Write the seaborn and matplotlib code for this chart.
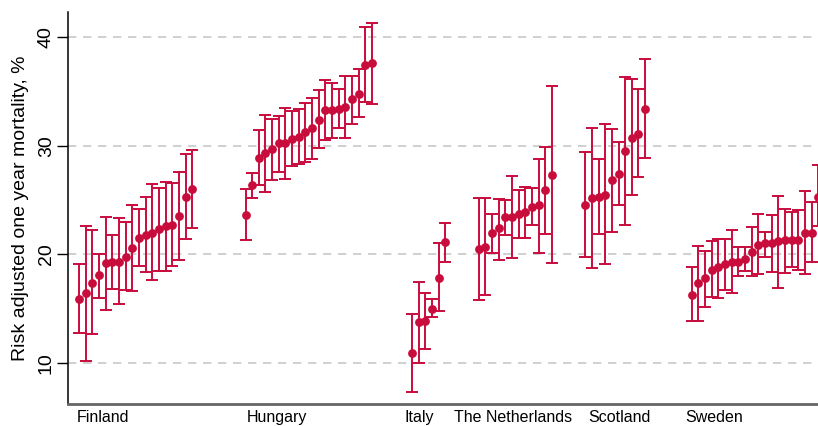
import numpy as np
import pandas as pd
import matplotlib
matplotlib.use("Agg")
import matplotlib.pyplot as plt
import seaborn as sns

countries = ["Finland", "Hungary", "Italy", "The Netherlands", "Scotland", "Sweden"]
group_start = [0, 25, 50, 60, 76, 92]
label_pos = [3.6, 29.7, 51.1, 65.1, 81.1, 95.4]

finland = [15.9, 16.4, 17.4, 18.1, 19.2, 19.3, 19.3, 19.8, 20.6, 21.5, 21.8, 22.0, 22.3, 22.6, 22.7, 23.5, 25.3, 26.0]
finland_hi = [19.1, 22.6, 22.2, 20.0, 23.4, 21.8, 23.3, 23.0, 24.5, 24.2, 25.3, 26.5, 26.1, 26.7, 26.6, 27.6, 29.2, 29.6]
finland_lo = [12.8, 10.2, 12.7, 16.0, 14.9, 16.8, 15.4, 16.7, 16.6, 18.9, 18.4, 17.6, 18.5, 18.5, 18.9, 19.5, 21.4, 22.4]

hungary = [23.6, 26.4, 28.9, 29.3, 29.7, 30.2, 30.2, 30.6, 30.8, 31.3, 31.6, 32.4, 33.3, 33.3, 33.4, 33.6, 34.3, 34.8, 37.4, 37.6]
hungary_hi = [26.0, 27.5, 31.4, 32.8, 32.5, 32.7, 33.5, 33.2, 33.4, 33.9, 34.4, 35.1, 36.0, 35.8, 35.2, 36.4, 36.4, 37.1, 40.9, 41.3]
hungary_lo = [21.3, 25.2, 26.4, 25.7, 26.8, 27.6, 26.9, 28.1, 28.3, 28.5, 28.8, 29.8, 30.5, 30.7, 31.6, 30.7, 32.0, 32.6, 34.0, 33.8]

italy = [10.9, 13.8, 13.9, 15.0, 17.8, 21.1]
italy_hi = [14.5, 17.5, 16.4, 15.9, 21.0, 22.9]
italy_lo = [7.3, 10.0, 11.3, 14.2, 14.8, 19.3]

netherlands = [20.5, 20.7, 22.0, 22.4, 23.4, 23.4, 23.7, 23.9, 24.4, 24.5, 25.9, 27.3]
netherlands_hi = [25.2, 25.2, 23.7, 25.1, 25.0, 27.2, 25.9, 26.2, 26.1, 28.8, 29.9, 35.5]
netherlands_lo = [15.8, 16.3, 20.1, 19.5, 21.8, 19.7, 21.5, 21.5, 22.7, 20.1, 21.9, 19.2]

scotland = [24.5, 25.2, 25.3, 25.5, 26.8, 27.4, 29.5, 30.7, 31.1, 33.4]
scotland_hi = [29.4, 31.6, 28.8, 32.0, 31.5, 30.3, 36.3, 36.1, 35.2, 38.0]
scotland_lo = [19.8, 18.7, 21.9, 19.1, 22.1, 24.5, 22.7, 25.5, 27.1, 28.9]

sweden = [16.3, 17.4, 17.8, 18.6, 18.8, 19.1, 19.3, 19.3, 19.6, 20.2, 20.9, 21.0, 21.0, 21.2, 21.3, 21.3, 21.3, 22.0, 22.0, 25.3]
sweden_hi = [18.8, 20.8, 20.3, 21.2, 21.4, 21.4, 22.2, 20.7, 20.7, 22.5, 23.7, 22.1, 23.6, 25.4, 24.2, 23.9, 24.1, 25.8, 24.8, 28.2]
sweden_lo = [13.9, 13.9, 15.2, 16.1, 16.0, 16.7, 16.4, 18.0, 18.5, 18.0, 18.2, 19.8, 18.4, 16.9, 18.3, 18.8, 18.6, 18.2, 19.3, 22.6]

yticks = [10, 20, 30, 40]
ylabel = "Risk adjusted one year mortality, %"

series = [
    (finland, finland_lo, finland_hi),
    (hungary, hungary_lo, hungary_hi),
    (italy, italy_lo, italy_hi),
    (netherlands, netherlands_lo, netherlands_hi),
    (scotland, scotland_lo, scotland_hi),
    (sweden, sweden_lo, sweden_hi),
]

rows = []
for c, start, (v, lo, hi) in zip(countries, group_start, series):
    for i, (a, l, h) in enumerate(zip(v, lo, hi)):
        rows.append({"country": c, "x": start + i, "value": a, "lo": l, "hi": h})
df = pd.DataFrame(rows)

sns.set_theme(style="white")
plt.rcParams["font.family"] = ["Liberation Sans", "DejaVu Sans"]
plt.rcParams["text.color"] = "black"
plt.rcParams["axes.labelcolor"] = "black"
plt.rcParams["xtick.color"] = "black"
plt.rcParams["ytick.color"] = "black"

color = "#c80c3c"

fig = plt.figure(figsize=(8.18, 4.26), dpi=100)
ax = fig.add_axes([68 / 818, 22 / 426, 1 - 68 / 818, 1 - 34 / 426])

ax.errorbar(df["x"], df["value"],
            yerr=[df["value"] - df["lo"], df["hi"] - df["value"]],
            fmt="none", ecolor=color, elinewidth=1.4, capsize=4.2, capthick=1.4, zorder=3)
sns.scatterplot(data=df, x="x", y="value", color=color, s=40, edgecolor=color,
                linewidth=0, ax=ax, zorder=4, legend=False)

ax.set_xlim(-1.65, 110.95)
ax.set_ylim(6.23, 42.3)

ax.set_yticks(yticks)
ax.set_yticklabels([str(t) for t in yticks], rotation=90, va="center", fontsize=14)
ax.set_xticks(label_pos)
ax.set_xticklabels(countries, fontsize=11.5)
ax.tick_params(axis="x", length=0, pad=4)
ax.tick_params(axis="y", length=8, width=1.0, color="black", pad=1.5, left=True)

for t in yticks:
    ax.axhline(t, color="#c8c8c8", lw=1.2, ls=(0, (5, 4)), zorder=1)

ax.set_xlabel("")
ax.set_ylabel(ylabel, fontsize=14, labelpad=6)

for s in ["top", "right"]:
    ax.spines[s].set_visible(False)
ax.spines["left"].set_color("black")
ax.spines["left"].set_linewidth(1.1)
ax.spines["bottom"].set_color("#666666")
ax.spines["bottom"].set_linewidth(2.0)

fig.savefig("out.png", dpi=100)
